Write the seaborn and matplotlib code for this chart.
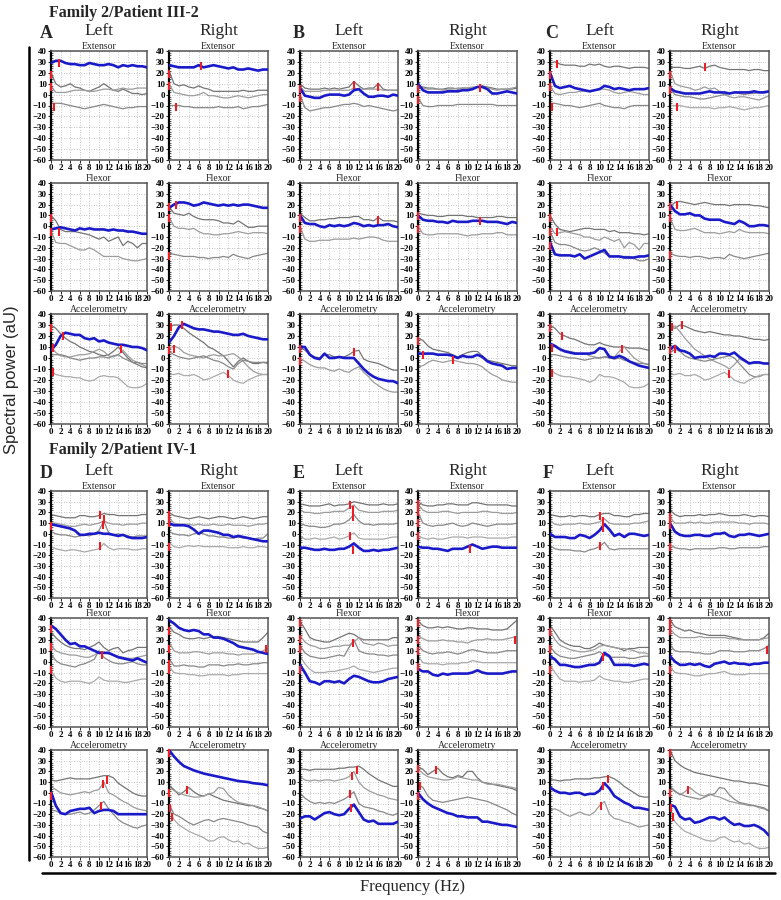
import numpy as np
import matplotlib
matplotlib.use("Agg")
import matplotlib.pyplot as plt
from matplotlib.lines import Line2D
import seaborn as sns

FREQ = list(range(21))

# ---------------- Family 2 / Patient III-2 ----------------
A_L_ext_blue = [29,31,31,29,28, 28,27,27,29,28, 27,27,28,27,25, 27,26,27,26,26, 25]
A_L_ext_gray = [[20,10,7,8,10, 7,6,4,3,5, 7,10,7,4,3, 5,3,1,1,0, 1],
                [8,2,2,2,3, 4,4,4,3,3, 4,5,5,4,5, 6,5,5,6,6, 6],
                [-8,-8,-8,-9,-10, -11,-12,-13,-12,-11, -10,-9,-10,-11,-12, -13,-12,-12,-11,-11, -11]]
A_L_ext_marks = [(0,18),(0,7),(0.6,-11),(1.6,29)]

A_R_ext_blue = [27,26,25,25,25, 25,27,25,26,27, 26,25,24,25,23, 23,24,23,22,23, 23]
A_R_ext_gray = [[22,10,8,9,7, 6,8,6,5,3, 3,3,3,3,3, 4,3,3,4,4, 4],
                [10,2,1,0,-1, -1,0,2,-1,-1, -2,-3,-3,-2,-1, -2,-3,-2,-1,0, 0],
                [-10,-10,-10,-11,-11, -12,-12,-12,-12,-12, -11,-12,-12,-12,-11, -13,-12,-11,-11,-10, -9]]
A_R_ext_marks = [(0,19),(0,8),(1.5,-11),(6.5,26)]

A_L_flx_blue = [-3,-2,-1,-2,-3, -4,-2,-3,-2,-3, -3,-3,-4,-3,-4, -4,-5,-5,-6,-7, -7]
A_L_flx_gray = [[10,5,-3,-5,-5, -5,-6,-7,-8,-10, -12,-10,-14,-12,-10, -18,-14,-16,-20,-16, -16],
                [-5,-15,-16,-16,-18, -20,-22,-22,-20,-22, -25,-28,-28,-28,-28, -30,-31,-32,-32,-31, -30]]
A_L_flx_marks = [(0,8),(0,-5),(1.6,-5)]

A_R_flx_blue = [17,20,22,22,21, 19,20,22,21,20, 19,20,19,20,19, 20,20,19,18,17, 17]
A_R_flx_gray = [[18,12,11,10,12, 9,7,6,6,6, 5,3,3,2,5, 2,-1,-1,0,0, 0],
                [8,0,-2,-2,-3, -2,-5,-7,-7,-8, -8,-7,-7,-6,-5, -6,-7,-6,-6,-6, -7],
                [-25,-26,-27,-28,-28, -28,-29,-29,-30,-29, -29,-28,-29,-26,-28, -29,-30,-28,-27,-26, -25]]
A_R_flx_marks = [(0,18),(0,8),(0,-28),(1.5,20)]

A_L_acc_blue = [7,12,20,23,22, 21,21,18,17,18, 15,16,14,13,12, 12,11,10,10,9, 7]
A_L_acc_gray = [[30,27,22,18,15, 13,10,8,6,5, 3,2,3,6,10, 5,0,-4,-6,-8, -9],
                [10,5,2,1,1, 2,3,3,4,6, 8,6,2,1,3, 7,2,-2,-4,-6, -8],
                [3,3,3,2,0, -1,-2,-1,0,0, 1,1,0,2,3, 0,-2,-4,-4,-5, -5],
                [-12,-15,-16,-17,-17, -18,-18,-20,-21,-20, -17,-16,-17,-17,-18, -22,-26,-27,-27,-26, -23]]
A_L_acc_marks = [(0,27),(0.5,9),(2.6,20),(0.5,-13),(14.5,8)]

A_R_acc_blue = [14,20,28,31,29, 27,26,26,25,24, 24,23,22,21,21, 22,20,19,18,17, 17]
A_R_acc_gray = [[28,30,30,27,23, 20,17,14,10,8, 5,2,-3,-8,-3, 0,-3,-5,-5,-4, -4],
                [8,11,9,5,3, 2,1,0,2,3, 2,2,3,4,1, -3,-8,-12,-14,-15, -15],
                [6,3,1,0,-1, 0,1,2,0,-2, -3,-5,-8,-10,-5, -2,-3,-4,-4,-4, -5],
                [-15,-15,-14,-16,-16, -15,-17,-20,-19,-17, -15,-13,-16,-20,-22, -23,-20,-18,-16,-15, -15]]
A_R_acc_marks = [(0.5,28),(2.7,30),(0,7),(1,8),(12,-15)]

B_L_ext_blue = [6,-1,-2,-3,-3, -1,0,0,0,-1, 0,4,5,1,-2, -2,-1,-1,-2,0, -1]
B_L_ext_gray = [[10,6,5,5,5, 6,5,6,5,6, 7,12,8,5,6, 6,10,5,4,4, 4],
                [7,3,3,3,3, 4,4,4,4,4, 4,6,5,5,5, 5,5,4,4,4, 4],
                [0,-12,-15,-14,-13, -12,-12,-11,-10,-9, -9,-8,-9,-11,-10, -11,-12,-13,-14,-15, -14]]
B_L_ext_marks = [(0,5),(0,-3),(11,9),(16,7)]

B_R_ext_blue = [10,4,2,2,2, 2,3,3,3,4, 4,5,7,7,5, 1,1,2,3,2, 1]
B_R_ext_gray = [[8,7,6,6,5, 5,6,6,5,6, 6,6,7,8,7, 6,5,5,5,5, 6],
                [10,6,5,5,5, 4,5,5,6,6, 6,7,7,7,6, 5,4,5,5,6, 7],
                [-3,-10,-11,-11,-10, -10,-10,-10,-9,-9, -9,-9,-9,-9,-9, -9,-10,-10,-10,-10, -10]]
B_R_ext_marks = [(0,5),(0,-5),(12.5,6)]

B_L_flx_blue = [10,3,2,2,0, -1,1,0,1,0, 1,3,2,0,1, 0,1,1,2,0, -1]
B_L_flx_gray = [[12,8,5,5,6, 6,7,7,8,8, 8,9,9,6,6, 5,8,5,5,5, 4],
                [0,-12,-14,-14,-13, -13,-13,-12,-12,-12, -12,-11,-12,-11,-10, -10,-11,-13,-14,-14, -14]]
B_L_flx_marks = [(0,8),(0,-3),(16,6)]

B_R_flx_blue = [10,6,5,5,4, 4,3,5,4,4, 4,5,5,5,4, 4,4,3,2,4, 3]
B_R_flx_gray = [[12,11,10,10,9, 9,10,10,10,10, 9,9,8,8,8, 8,9,9,8,8, 8],
                [0,-7,-8,-8,-7, -7,-7,-7,-7,-8, -9,-8,-8,-7,-7, -7,-6,-6,-8,-8, -8]]
B_R_flx_marks = [(0,9),(0,-3),(12.5,5)]

B_L_acc_blue = [10,10,3,0,-1, 4,0,0,1,0, 0,0,-5,-10,-14, -17,-19,-20,-21,-21, -23]
B_L_acc_gray = [[10,7,3,1,0, 3,3,1,1,1, 3,6,7,-1,-3, -4,-5,-7,-9,-11, -11],
                [0,-3,-6,-8,-9, -9,-11,-12,-10,-12, -13,-10,-8,-13,-17, -22,-25,-28,-30,-31, -31]]
B_L_acc_marks = [(0,8),(0,-3),(11,5)]

B_R_acc_blue = [4,4,4,4,3, 3,3,2,0,2, 1,1,3,1,-3, -5,-6,-7,-10,-9, -9]
B_R_acc_gray = [[18,16,11,8,7, 6,5,3,1,3, 5,6,6,2,-2, -3,-4,-5,-6,-7, -7],
                [-8,-7,-4,-2,-3, -4,-3,-2,-3,-4, -5,-5,-6,-8,-12, -15,-17,-20,-21,-22, -22]]
B_R_acc_marks = [(0,15),(1,3),(7,-2)]

C_L_ext_blue = [20,8,6,7,8, 6,5,4,3,4, 5,8,7,5,6, 5,4,5,5,5, 6]
C_L_ext_gray = [[29,30,28,27,27, 27,26,26,28,27, 28,26,25,26,26, 25,24,25,25,25, 24],
                [8,1,0,1,2, 2,3,3,3,4, 5,5,4,2,1, 2,3,2,1,0, 0],
                [-8,-8,-9,-10,-10, -11,-12,-11,-10,-9, -8,-10,-11,-12,-12, -13,-11,-10,-10,-10, -10]]
C_L_ext_marks = [(0,18),(0,7),(1.5,28),(0.5,-11)]

C_R_ext_blue = [6,3,2,1,1, 1,1,2,3,2, 2,2,1,2,2, 2,2,3,2,2, 3]
C_R_ext_gray = [[25,25,25,24,24, 25,26,24,26,27, 25,24,23,23,23, 23,22,23,23,22, 22],
                [22,10,8,7,6, 4,5,7,5,6, 3,0,-2,-3,-2, -2,-3,-4,-5,-3, -1],
                [5,0,-1,-2,-2, -3,-4,-4,-3,-2, -1,0,1,2,1, 0,1,1,2,3, 3],
                [-10,-10,-10,-11,-12, -12,-12,-12,-12,-13, -12,-12,-11,-12,-13, -14,-13,-12,-12,-11, -10]]
C_R_ext_marks = [(0,18),(0,4),(1.5,-11),(7,25)]

C_L_flx_blue = [-15,-26,-27,-27,-27, -28,-26,-30,-28,-26, -24,-22,-28,-28,-28, -29,-29,-29,-28,-28, -27]
C_L_flx_gray = [[10,2,-3,-4,-5, -4,-3,-2,-2,-3, -3,-3,-5,-4,-6, -6,-6,-7,-7,-8, -7],
                [0,-7,-6,-5,-6, -7,-8,-10,-10,-12, -13,-10,-12,-14,-12, -20,-15,-17,-22,-16, -16],
                [-5,-15,-17,-17,-18, -20,-22,-23,-22,-20, -22,-25,-28,-28,-28, -28,-28,-30,-32,-32, -30]]
C_L_flx_marks = [(0,8),(0,-5),(0,-18),(1.5,-5)]

C_R_flx_blue = [20,14,11,11,12, 10,10,7,6,6, 6,4,3,2,5, 3,0,0,1,1, 0]
C_R_flx_gray = [[18,22,23,22,21, 20,21,22,21,20, 20,20,19,20,20, 20,20,19,19,18, 17],
                [8,-3,-4,-4,-3, -2,-4,-6,-6,-6, -7,-6,-5,-6,-3, -5,-6,-6,-6,-6, -7],
                [-25,-27,-28,-28,-29, -28,-28,-29,-30,-29, -29,-30,-26,-28,-29, -30,-29,-28,-27,-26, -25]]
C_R_flx_marks = [(0,18),(0,8),(0,-27),(1.5,20)]

C_L_acc_blue = [13,11,8,6,5, 4,4,4,4,5, 9,8,1,0,2, 0,-3,-5,-7,-8, -9]
C_L_acc_gray = [[30,27,22,20,18, 17,15,13,12,12, 14,12,11,10,10, 10,9,9,9,8, 7],
                [12,10,8,7,6, 5,4,4,2,1, 0,1,2,1,6, 10,5,0,-3,-5, -6],
                [3,3,2,1,0, 0,-1,-2,-1,0, 0,1,0,-1,0, -2,-3,-4,-5,-5, -6],
                [-10,-14,-16,-17,-17, -18,-19,-20,-22,-20, -15,-17,-17,-18,-20, -22,-26,-27,-27,-26, -23]]
C_L_acc_marks = [(0,27),(0.5,9),(2.5,20),(0.5,-14),(14.5,8)]

C_R_acc_blue = [8,11,7,6,4, 0,1,1,2,1, 4,4,3,5,1, -2,-5,-4,-4,-5, -5]
C_R_acc_gray = [[28,27,30,29,27, 25,24,23,24,23, 22,21,21,20,20, 19,18,17,17,16, 17],
                [28,29,24,18,13, 8,5,2,-1,-3, -5,-7,-10,-6,-1, -3,-5,-5,-5,-5, -5],
                [5,8,6,2,0, -1,-2,-3,-2,-1, 0,1,2,0,-5, -10,-15,-17,-17,-15, -15],
                [-15,-15,-14,-16,-16, -15,-17,-20,-19,-17, -15,-13,-16,-20,-22, -23,-20,-18,-16,-15, -15]]
C_R_acc_marks = [(0.5,28),(2.5,30),(0,7),(1,8),(12,-15)]

# ---------------- Family 2 / Patient IV-1 ----------------
D_L_ext_blue = [9,8,7,6,5, 3,-1,-1,0,0, 1,0,0,-1,-2, -1,-3,-4,-4,-4, -3]
D_L_ext_gray = [[18,17,16,15,15, 15,17,17,16,16, 17,19,18,18,17, 17,17,17,17,18, 18],
                [10,10,9,8,7, 7,8,9,8,9, 10,12,10,9,9, 8,9,9,9,10, 10],
                [2,0,-1,-1,-2, -3,-2,-1,-2,0, 3,12,1,-1,0, -1,-2,-3,-2,-2, -2],
                [-12,-14,-15,-16,-15, -15,-16,-17,-16,-15, -14,-9,-13,-15,-14, -14,-14,-15,-15,-14, -14]]
D_L_ext_marks = [(0,7),(10.3,18),(11,14),(10.8,8),(10.3,-11)]

D_R_ext_blue = [10,8,8,8,7, 4,0,3,3,2, 1,-1,-1,-3,-2, -3,-4,-5,-6,-7, -7]
D_R_ext_gray = [[20,17,16,15,14, 15,16,15,14,15, 16,16,15,14,15, 16,15,14,15,16, 16],
                [15,10,9,9,9, 8,9,8,8,9, 8,8,9,8,8, 8,7,8,9,9, 10],
                [2,0,-1,-1,-2, 0,1,0,-2,-2, -3,-3,-4,-4,-3, -4,-4,-5,-4,-4, 0],
                [-8,-12,-13,-12,-11, -12,-11,-12,-12,-12, -12,-12,-13,-13,-13, -12,-13,-13,-12,-12, -13]]
D_R_ext_marks = [(0,18),(0,10),(0,-12)]

D_L_flx_blue = [33,30,25,20,16, 17,14,14,12,10, 8,8,8,6,4, 3,2,1,3,1, -1]
D_L_flx_gray = [[27,22,18,15,13, 12,12,11,13,15, 18,13,10,12,13, 8,10,11,13,13, 13],
                [15,10,8,7,6, 6,5,4,4,6, 9,8,7,6,5, 4,3,3,4,5, 6],
                [7,1,-2,-3,-4, -5,-3,-2,0,2, 10,4,1,-1,-2, -2,-1,0,-2,-3, -3],
                [-8,-15,-18,-19,-18, -18,-18,-19,-20,-18, -14,-17,-18,-18,-18, -19,-19,-18,-17,-16, -16]]
D_L_flx_marks = [(0,30),(0,13),(0,-8),(10.7,6)]

D_R_flx_blue = [38,35,31,29,28, 29,28,25,25,22, 22,21,19,17,14, 13,12,11,9,8, 7]
D_R_flx_gray = [[32,27,25,22,21, 21,22,21,22,23, 23,22,21,20,19, 18,18,18,18,22, 27],
                [18,10,8,8,8, 9,9,8,7,8, 8,8,7,7,6, 7,7,7,8,10, 12],
                [3,-4,-4,-3,-4, -4,-5,-5,-3,-3, -3,-4,-3,-3,-2, -3,-3,-2,-2,-1, -1],
                [-5,-10,-11,-11,-12, -12,-13,-13,-12,-12, -12,-12,-13,-12,-12, -11,-11,-11,-11,-11, -11]]
D_R_flx_marks = [(0,28),(0,12),(0,-2),(0,-8),(19.5,12)]

D_L_acc_blue = [1,-12,-19,-20,-17, -16,-15,-15,-14,-19, -17,-16,-16,-17,-20, -20,-20,-20,-20,-20, -20]
D_L_acc_gray = [[12,11,12,13,14, 13,13,13,13,14, 15,16,16,14,9, 6,3,0,-2,-3, -3],
                [6,3,0,-1,-2, -1,0,1,0,2, 3,10,0,-2,-5, -8,-10,-13,-15,-16, -17],
                [-16,-17,-19,-20,-20, -19,-18,-20,-19,-16, -12,-8,-15,-20,-25, -28,-30,-32,-33,-31, -30]]
D_L_acc_marks = [(0,-3),(10.5,-12),(10.8,8),(11.7,12)]

D_R_acc_blue = [40,34,29,25,23, 21,19.5,18,17,16, 15,14,13,12,11, 10.5,10,9,8.5,8, 7]
D_R_acc_gray = [[7,3,-2,1,5, 1,-2,-3,-1,-3, -5,-7,-8,-9,-10, -11,-12,-12,-14,-15, -17],
                [6,2,0,-2,-3, -4,-4,-3,-1,0, 5,4,-2,-6,-9, -10,-11,-12,-13,-15, -17],
                [-10,-20,-22,-25,-28, -30,-28,-26,-25,-27, -25,-24,-25,-26,-27, -28,-30,-31,-32,-36, -38],
                [-15,-25,-30,-33,-36, -38,-40,-42,-45,-45, -42,-41,-44,-46,-45, -48,-47,-50,-52,-52, -51]]
D_R_acc_marks = [(0,37),(0,0),(3.7,3),(0.3,-14),(0.6,-23)]

E_L_ext_blue = [-13,-13,-14,-15,-15, -14,-15,-15,-14,-14, -12,-9,-13,-16,-16, -15,-16,-15,-15,-14, -13]
E_L_ext_gray = [[28,27,26,26,26, 27,28,26,27,27, 28,30,29,28,27, 27,27,28,27,27, 28],
                [22,20,20,19,19, 20,20,21,21,21, 24,27,22,21,20, 20,20,21,21,21, 22],
                [10,8,7,7,6, 6,7,9,9,10, 13,18,12,9,9, 8,9,9,9,9, 10],
                [-2,-5,-5,-4,-5, -5,-4,-3,-5,-4, -2,1,-4,-5,-5, -5,-5,-5,-4,-3, -3]]
E_L_ext_marks = [(10.2,27),(10.8,22),(10.8,16),(10.2,-2),(10.8,-15)]

E_R_ext_blue = [-12,-13,-13,-14,-14, -15,-16,-14,-14,-14, -12,-10,-12,-14,-13, -12,-12,-13,-13,-13, -13]
E_R_ext_gray = [[30,27,26,26,27, 27,28,28,27,27, 27,29,29,28,27, 27,27,27,27,26, 26],
                [28,22,20,20,20, 21,21,20,19,20, 20,20,20,21,21, 20,20,19,19,19, 20],
                [20,10,8,7,8, 8,9,10,8,7, 8,10,9,8,7, 8,9,9,9,9, 10],
                [-2,-4,-5,-4,-5, -5,-4,-3,-3,-3, -4,-3,-3,-3,-4, -4,-4,-4,-4,-3, -3]]
E_R_ext_marks = [(0,28),(0,20),(0,10),(0,-2),(10.5,-14)]

E_L_flx_blue = [-3,-10,-18,-19,-21, -18,-18,-19,-18,-20, -16,-13,-14,-16,-18, -19,-19,-18,-16,-15, -14]
E_L_flx_gray = [[37,30,22,20,19, 18,18,20,22,24, 26,25,22,20,20, 20,20,20,20,22, 22],
                [24,18,15,14,12, 12,13,14,14,15, 15,18,22,17,16, 15,17,16,14,15, 15],
                [15,8,5,4,3, 3,4,5,6,5, 13,20,10,8,7, 7,6,6,5,6, 6],
                [5,-2,-7,-10,-10, -10,-9,-9,-8,-7, -6,-4,-7,-8,-9, -10,-9,-8,-7,-6, -6]]
E_L_flx_marks = [(0,35),(0,21),(0,12),(0,-8),(10.8,17)]

E_R_flx_blue = [-7,-9,-9,-12,-13, -11,-12,-11,-11,-11, -11,-10,-8,-10,-11, -11,-11,-11,-10,-9, -9]
E_R_flx_gray = [[37,33,31,31,32, 31,32,31,30,30, 31,31,30,30,30, 29,29,29,30,34, 38],
                [24,21,19,19,19, 20,19,19,18,18, 17,19,20,20,21, 20,20,20,21,22, 23],
                [15,10,8,7,8, 8,9,8,7,8, 10,11,10,9,8, 8,8,9,10,10, 10],
                [5,-1,-2,-2,-2, -3,-2,-2,-2,-1, -1,1,0,-1,-1, -1,-1,-1,-1,-1, -1]]
E_R_flx_marks = [(0,35),(0,20),(0,10),(0,-5),(19.5,20)]

E_L_acc_blue = [-24,-22,-22,-25,-22, -19,-18,-20,-21,-20, -15,-11,-18,-25,-27, -26,-29,-29,-29,-29, -27]
E_L_acc_gray = [[22,22,21,22,22, 22,22,22,23,23, 24,24,25,22,18, 15,12,10,8,6, 6],
                [15,12,11,12,11, 12,12,11,12,13, 15,20,10,5,2, 0,-2,-3,-5,-6, -7],
                [0,-5,-8,-10,-9, -10,-9,-10,-8,-6, -3,1,-10,-13,-14, -15,-17,-18,-20,-21, -19]]
E_L_acc_marks = [(10.2,-1),(10.5,-14),(10.7,16),(11.7,21)]

E_R_acc_blue = [0,-6,-10,-13,-15, -17,-19,-20,-22,-22, -23,-23,-23,-27,-27, -28,-29,-30,-30,-31, -32]
E_R_acc_gray = [[24,22,17,20,23, 18,15,14,16,15, 20,20,14,10,9, 8,7,6,5,4, 2],
                [22,18,15,14,13, 12,12,13,15,14, 13,12,12,10,8, 8,8,7,6,5, 4],
                [8,5,-3,-7,-8, -9,-8,-7,-6,-5, -4,-5,-6,-7,-8, -10,-12,-14,-16,-19, -21]]
E_R_acc_marks = [(0,22),(0,-3),(0.5,6),(3.7,21)]

F_L_ext_blue = [0,-3,-3,-3,-4, -4,-1,-2,-4,-1, 3,9,4,-2,0, -3,0,0,-1,-2, -1]
F_L_ext_gray = [[18,17,16,16,17, 16,17,17,16,16, 18,19,19,17,17, 16,16,18,18,19, 19],
                [12,9,8,9,9, 9,10,9,9,10, 11,14,10,9,9, 9,9,10,10,11, 12],
                [-11,-14,-15,-15,-15, -16,-16,-17,-15,-14, -12,-8,-14,-15,-14, -14,-14,-14,-14,-14, -14]]
F_L_ext_marks = [(10,17),(10.8,12),(10.8,5),(10.2,-11)]

F_R_ext_blue = [10,2,-1,-2,-2, -1,-1,-2,-2,0, 0,1,-2,-3,-1, -1,0,-1,-2,-1, 0]
F_R_ext_gray = [[22,18,16,17,17, 17,18,17,18,18, 19,18,17,17,17, 18,17,16,17,17, 16],
                [15,10,10,10,11, 10,11,10,10,11, 11,11,11,11,10, 10,9,10,10,10, 9],
                [-10,-13,-14,-14,-15, -14,-14,-14,-14,-14, -13,-13,-14,-14,-13, -13,-13,-13,-13,-12, -12]]
F_R_ext_marks = [(0,16),(0,8),(0,-12)]

F_L_flx_blue = [5,2,-3,-3,-4, -5,-5,-4,-3,-3, -1,8,5,-3,-3, -3,-3,-4,-3,-2, -3]
F_L_flx_gray = [[33,27,20,17,15, 14,14,12,12,14, 17,15,14,13,12, 10,12,12,13,13, 13],
                [28,20,15,13,11, 10,9,9,10,11, 14,15,14,13,12, 12,11,10,8,8, 7],
                [14,8,5,4,3, 3,4,5,6,7, 9,6,4,4,4, 4,3,3,4,5, 5],
                [-3,-10,-16,-18,-18, -18,-19,-18,-18,-17, -13,-16,-17,-18,-18, -19,-19,-18,-17,-16, -16]]
F_L_flx_marks = [(0,27),(0,12),(0,-8),(10.7,4)]

F_R_flx_blue = [5,0,-3,-3,-2, -3,-2,-4,-5,-2, -1,0,-2,-1,-2, -2,-3,-2,-2,-1, -1]
F_R_flx_gray = [[38,32,30,28,29, 27,26,25,24,24, 24,24,23,22,21, 20,20,20,20,22, 26],
                [30,25,22,22,22, 22,23,22,22,22, 22,22,21,21,20, 20,20,20,20,21, 22],
                [15,10,9,9,9, 8,8,7,7,8, 10,10,10,9,9, 9,10,10,10,12, 15],
                [-5,-10,-11,-11,-12, -13,-13,-12,-11,-11, -10,-9,-11,-12,-12, -12,-11,-11,-11,-11, -11]]
F_R_flx_marks = [(0,35),(0,28),(0,-8),(19.5,11)]

F_L_acc_blue = [5,2,0,0,-1, 0,0,-2,-1,-1, 2,9,4,-3,-6, -9,-11,-14,-14,-15, -16]
F_L_acc_gray = [[12,12,11,12,12, 13,13,13,13,14, 14,15,15,13,10, 6,3,0,-3,-4, -4],
                [-16,-15,-17,-20,-22, -20,-18,-20,-21,-18, -12,-8,-20,-24,-25, -27,-28,-30,-32,-31, -30]]
F_L_acc_marks = [(10.3,-12),(10.8,6),(11.8,13)]

F_R_acc_blue = [-11,-13,-22,-25,-24, -28,-27,-25,-23,-23, -25,-23,-27,-30,-29, -31,-31,-30,-32,-35, -40]
F_R_acc_gray = [[40,30,26,23,21, 19,18,17,16,15, 14,13,12,11,11, 10,9,9,8,7, 6],
                [6,2,-2,1,5, 1,-2,-3,-1,-3, -4,-6,-8,-9,-10, -11,-12,-12,-14,-15, -17],
                [5,1,-1,-3,-4, -5,-6,-4,-2,-1, 5,4,-2,-6,-9, -10,-11,-12,-13,-14, -17],
                [-18,-27,-32,-36,-38, -40,-42,-44,-45,-45, -42,-41,-44,-46,-45, -48,-47,-50,-52,-52, -51]]
F_R_acc_marks = [(0,37),(0,0),(3.7,3),(0.3,-14),(0.6,-23)]

TITLES = {'ext': 'Extensor', 'flx': 'Flexor', 'acc': 'Accelerometry'}
SIDE_LABELS = {'L': 'Left', 'R': 'Right'}
FAMILY_TITLES = ['Family 2/Patient III-2', 'Family 2/Patient IV-1']
X_TICKS = list(range(0, 21, 2))
Y_TICKS = list(range(-60, 41, 10))

# ---------------- styling / layout ----------------
sns.set_theme(style="white")
plt.rcParams['font.family'] = ['Liberation Serif', 'DejaVu Serif']

W, H = 781, 900
fig = plt.figure(figsize=(W / 100, H / 100), dpi=100)

COLS = [(51, 147), (169, 268), (300, 398), (418, 517), (550, 649), (670, 769)]
ROWS = [[(51, 160), (183, 291), (314, 424)],
        [(491, 598), (618, 727), (750, 857)]]
GROUPS = {'A': (0, 0), 'B': (0, 1), 'C': (0, 2), 'D': (1, 0), 'E': (1, 1), 'F': (1, 2)}
LETTER_X = {'A': 40, 'B': 293, 'C': 545, 'D': 40, 'E': 293, 'F': 543}
GRAYS = ['#747474', '#9c9c9c', '#888888', '#aaaaaa']
BLUE = '#1a1ac8'
RED = '#ee1c24'


def fx(px):
    return px / W


def fy(py):
    return 1 - py / H


for letter, (half, g) in GROUPS.items():
    rows = ROWS[half]
    for si, side in enumerate(['L', 'R']):
        x0, x1 = COLS[g * 2 + si]
        label_y = 31 if half == 0 else 471
        fig.text(fx((x0 + x1) / 2), fy(label_y), SIDE_LABELS[side], fontsize=12.5,
                 ha='center', va='center')
        for ri, m in enumerate(['ext', 'flx', 'acc']):
            y0, y1 = rows[ri]
            ax = fig.add_axes([fx(x0), fy(y1), fx(x1 - x0), (y1 - y0) / H])
            name = f"{letter}_{side}_{m}"
            blue = globals()[name + '_blue']
            grays = globals()[name + '_gray']
            marks = globals()[name + '_marks']
            for k, gl in enumerate(grays):
                sns.lineplot(x=FREQ, y=gl, ax=ax, color=GRAYS[k % 4], lw=0.9, zorder=2)
            sns.lineplot(x=FREQ, y=blue, ax=ax, color=BLUE, lw=1.9, zorder=3)
            sns.scatterplot(x=[p[0] for p in marks], y=[p[1] for p in marks], ax=ax,
                            marker='|', color=RED, edgecolor=RED, s=36, linewidth=1.5,
                            zorder=5, clip_on=False)
            ax.set_xlim(0, 20)
            ax.set_ylim(-60, 40)
            ax.set_xticks(X_TICKS)
            ax.set_yticks(Y_TICKS)
            ax.set_yticks(np.arange(-60, 41, 2), minor=True)
            ax.set_xlabel('')
            ax.set_ylabel('')
            ax.grid(True, which='major', ls=(0, (1, 2)), color='#b4b4b4', lw=0.6)
            ax.tick_params(axis='both', which='major', labelsize=6.4, pad=1, length=2,
                           width=0.6, colors='black')
            ax.tick_params(axis='y', which='minor', length=1.5, width=0.5, left=True,
                           direction='in')
            ax.tick_params(axis='x', which='major', bottom=True)
            ax.tick_params(axis='y', which='major', left=True)
            for lab in ax.get_xticklabels() + ax.get_yticklabels():
                lab.set_fontweight('bold')
            for sp in ['top', 'right', 'bottom']:
                ax.spines[sp].set_color('#555555')
                ax.spines[sp].set_linewidth(1.1)
            ax.spines['left'].set_color('black')
            ax.spines['left'].set_linewidth(1.6)
            ax.set_title(TITLES[m], fontsize=7, pad=1.5)
    fig.text(fx(LETTER_X[letter]), fy(34 if half == 0 else 473), letter, fontsize=13,
             fontweight='bold', ha='left', va='center')

fig.text(fx(49), fy(13), FAMILY_TITLES[0], fontsize=11.5, fontweight='bold', ha='left', va='center')
fig.text(fx(49), fy(450), FAMILY_TITLES[1], fontsize=11.5, fontweight='bold', ha='left', va='center')

fig.text(fx(12), fy(380), 'Spectral power (aU)', rotation=90, fontsize=12,
         ha='center', va='center', family=['Liberation Sans', 'DejaVu Sans'])
fig.text(fx(413), fy(887), 'Frequency (Hz)', fontsize=12, ha='center', va='center')

fig.add_artist(Line2D([fx(29), fx(29)], [fy(47), fy(860)], color='black', lw=1.8))
fig.add_artist(Line2D([fx(42), fx(775)], [fy(873), fy(873)], color='black', lw=1.8))

fig.savefig('out.png', dpi=100)
